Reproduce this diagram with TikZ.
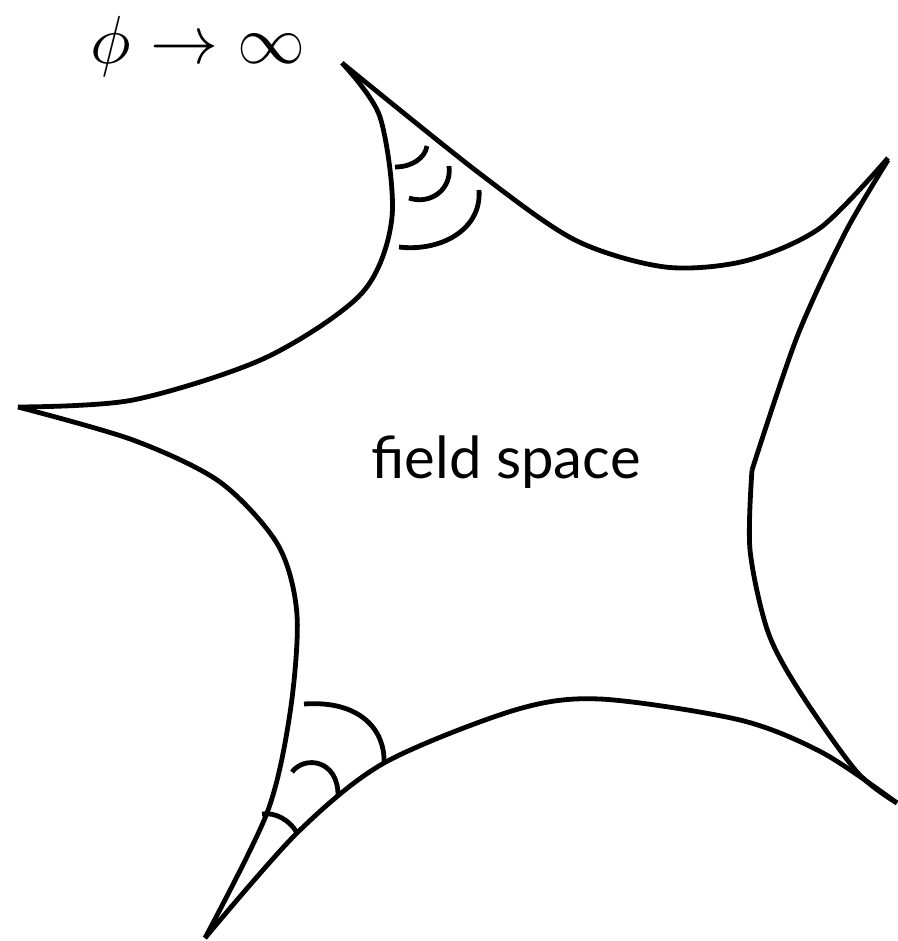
\documentclass[tikz,border=0pt]{standalone}
\usepackage{fontspec}
\setmainfont{Lato}
\begin{document}
\begin{tikzpicture}[x=1pt, y=-1pt, line width=4.8pt, line join=round]
  \useasboundingbox (0,0) rectangle (897,941);
  % rand des Feldraums
  \draw plot[smooth] coordinates {(342,63) (479,173) (575,240) (665,267) (745,261) (820,228) (888,158)};
  \draw plot[smooth] coordinates {(888,160) (845,233) (797,337) (752,470)};
  \draw plot[smooth] coordinates {(752,470) (750,550) (768,632) (800,692) (857,772) (897,803)};
  \draw plot[smooth] coordinates {(897,803) (823,753) (740,720) (600,699) (515,710) (384,763) (297,833) (205,938)};
  \draw plot[smooth] coordinates {(205,938) (267,813) (290,713) (297,615) (278,545) (220,482) (133,440) (18,407)};
  \draw plot[smooth] coordinates {(18,407) (133,400) (265,358) (362,293) (392,217) (380,117) (342,63)};
  % winkel oben
  \draw (395,167) .. controls (412,167) and (425,158) .. (427,146);
  \draw (409,198) .. controls (430,205) and (452,190) .. (449,166);
  \draw (399,247) .. controls (440,252) and (482,230) .. (479,190);
  % winkel unten
  \draw (304,704) .. controls (360,700) and (385,730) .. (384,762);
  \draw (292,772) .. controls (305,755) and (338,760) .. (338,795);
  \draw (262,814) .. controls (275,812) and (290,820) .. (297,833);
  \node (feld) at (506,462) {\fontsize{58}{64}\selectfont field space};
  \node[scale=6.8, inner sep=0pt] (limes) at (198,47) {$\phi\to\infty$};
\end{tikzpicture}
\end{document}
